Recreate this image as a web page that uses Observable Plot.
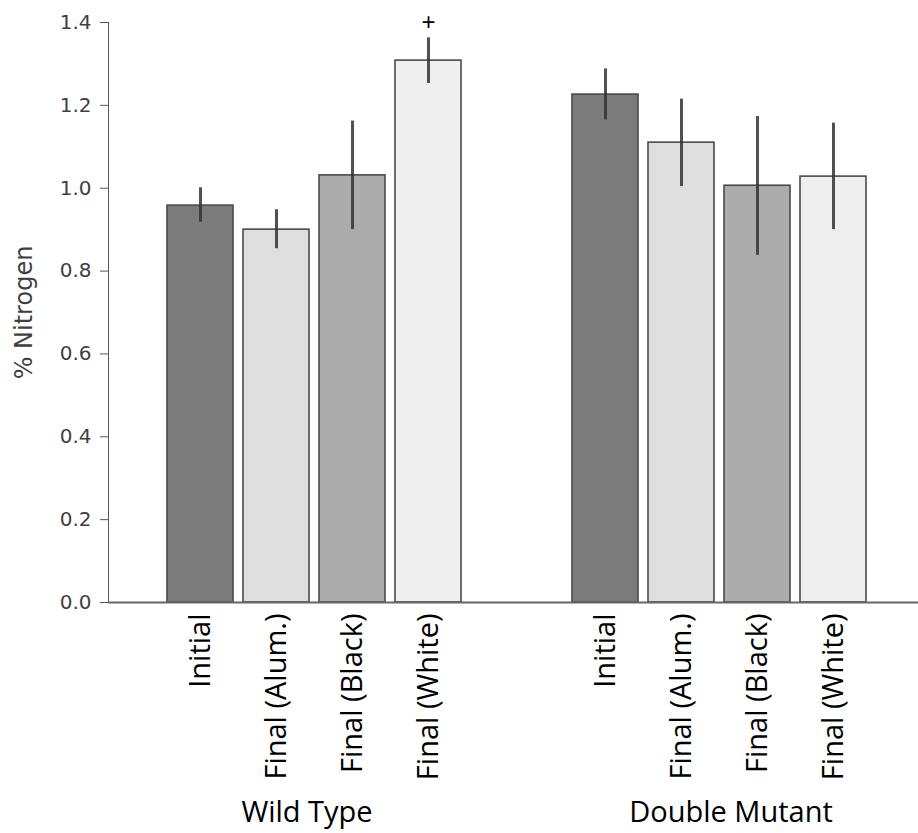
<!DOCTYPE html>
<html>
<head>
<meta charset="utf-8">
<script src="https://cdn.jsdelivr.net/npm/d3@7"></script>
<script src="https://cdn.jsdelivr.net/npm/@observablehq/plot@0.6"></script>
<style>
  html, body { margin: 0; padding: 0; background: #fff; }
  #chart svg { overflow: visible; }
  #chart [aria-label^="x-axis"] { color: #000; }
  #chart [aria-label^="x-axis"] text { font-family: "Open Sans", sans-serif !important; font-size: 29px !important; fill: #000; }
  #chart [aria-label^="y-axis"] text { font-family: "DejaVu Sans", sans-serif !important; font-size: 20px !important; fill: #3f3f3f; }
  #chart [aria-label="y-axis label"] text, #chart [aria-label="y-axis"] > text { font-size: 24px !important; fill: #3f3f3f; }
</style>
</head>
<body>
<div id="chart"></div>
<script>
const groups = ["Wild Type", "Double Mutant"];
const treatments = ["Initial", "Final (Alum.)", "Final (Black)", "Final (White)"];
const wtMean = [0.958, 0.900, 1.031, 1.308];
const wtLow  = [0.918, 0.854, 0.900, 1.253];
const wtHigh = [1.001, 0.948, 1.162, 1.363];
const dmMean = [1.226, 1.110, 1.006, 1.028];
const dmLow  = [1.165, 1.004, 0.838, 0.900];
const dmHigh = [1.288, 1.215, 1.173, 1.157];
const wtFlags = ["", "", "", "+"];
const dmFlags = ["", "", "", ""];
const fills = ["#7b7b7b", "#dedede", "#acacac", "#efefef"];
const yTicks = [0, 0.2, 0.4, 0.6, 0.8, 1.0, 1.2, 1.4];

const rows = [];
treatments.forEach((t, i) => rows.push({group: groups[0], treatment: t, mean: wtMean[i], low: wtLow[i], high: wtHigh[i], flag: wtFlags[i]}));
treatments.forEach((t, i) => rows.push({group: groups[1], treatment: t, mean: dmMean[i], low: dmLow[i], high: dmHigh[i], flag: dmFlags[i]}));

const chart = Plot.plot({
  width: 918,
  height: 833,
  marginLeft: 108,
  marginRight: 0,
  marginTop: 22,
  marginBottom: 231,
  style: {fontFamily: "DejaVu Sans, sans-serif", fontSize: "20px", color: "#555", background: "#fff"},
  facet: {data: rows, x: "group"},
  fx: {domain: groups, paddingInner: 0, paddingOuter: 0, axis: null, label: null},
  x: {domain: treatments, paddingInner: 0.137, paddingOuter: 0.7155, align: 0.527, tickSize: 0, tickRotate: -90, tickPadding: 11, label: null},
  y: {domain: [0, 1.4], ticks: yTicks, tickFormat: ".1f", tickSize: 8, tickPadding: 9, line: true, label: "% Nitrogen", labelArrow: "none", labelAnchor: "center", labelOffset: 94},
  color: {domain: treatments, range: fills},
  marks: [
    Plot.barY(rows, {x: "treatment", y: "mean", fill: "treatment", stroke: "#4a4a4a", strokeWidth: 1.6}),
    Plot.ruleX(rows, {x: "treatment", y1: "low", y2: "high", stroke: "#333", strokeWidth: 3, strokeOpacity: 0.85}),
    Plot.ruleY([0], {stroke: "#666", strokeWidth: 2}),
    Plot.text(rows, {filter: d => d.flag !== "", x: "treatment", y: "high", text: "flag", dy: -16, fontSize: 24, fill: "#000", fontFamily: "Liberation Sans"}),
    Plot.text(rows, {filter: d => d.treatment === "Initial" && d.group === groups[0], text: "group", frameAnchor: "bottom", dy: 219, dx: -4, fontSize: 29, fill: "#000", fontFamily: "Open Sans"}),
    Plot.text(rows, {filter: d => d.treatment === "Initial" && d.group === groups[1], text: "group", frameAnchor: "bottom", dy: 219, dx: 15, fontSize: 29, fill: "#000", fontFamily: "Open Sans"})
  ]
});
document.getElementById("chart").appendChild(chart);
</script>
</body>
</html>
